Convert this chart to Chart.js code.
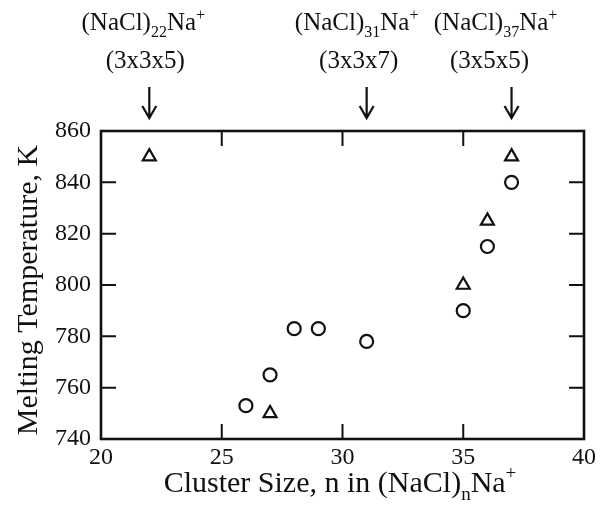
<!DOCTYPE html>
<html>
<head>
<meta charset="utf-8">
<script src="https://cdn.jsdelivr.net/npm/chart.js@4"></script>
<style>
  html, body { margin: 0; padding: 0; background: #fff; }
  #wrap { width: 600px; height: 509px; }
</style>
</head>
<body>
<div id="wrap"><canvas id="meltChart" width="600" height="509"></canvas></div>
<script>
// triangles (upper series)
const triN = [22, 27, 35, 36, 37];
const triT = [850, 750, 800, 825, 850];
// circles
const circN = [26, 27, 28, 29, 31, 35, 36, 37];
const circT = [753, 765, 783, 783, 778, 790, 815, 840];

const xTicks = [20, 25, 30, 35, 40];
const yTicks = [740, 760, 780, 800, 820, 840, 860];

// cluster labels above the plot
const markN = [22, 31, 37];
const markSub = ['22', '31', '37'];
const markShape = ['(3x3x5)', '(3x3x7)', '(3x5x5)'];

const ink = '#111';
const serif = '"Liberation Serif", "DejaVu Serif", serif';

function toPoints(xs, ys) {
    return xs.map((x, i) => ({ x: x, y: ys[i] }));
}

// draws text made of normal / sub / sup pieces, centred on cx
function drawRich(ctx, parts, cx, baseline, size) {
    const subSize = Math.round(size * 0.62);
    let total = 0;
    parts.forEach(p => {
        ctx.font = `${p.k === 'n' ? size : subSize}px ${serif}`;
        p.w = ctx.measureText(p.t).width;
        total += p.w;
    });
    let x = cx - total / 2;
    ctx.textAlign = 'left';
    ctx.textBaseline = 'alphabetic';
    parts.forEach(p => {
        ctx.font = `${p.k === 'n' ? size : subSize}px ${serif}`;
        let dy = 0;
        if (p.k === 'sub') dy = size * 0.28;
        if (p.k === 'sup') dy = -size * 0.42;
        ctx.fillText(p.t, x, baseline + dy);
        x += p.w;
    });
}

const framePlugin = {
    id: 'frame',
    afterDraw(chart) {
        const ctx = chart.ctx;
        const a = chart.chartArea;
        const xs = chart.scales.x;
        const ys = chart.scales.y;
        ctx.save();
        ctx.strokeStyle = ink;
        ctx.fillStyle = ink;

        // box
        ctx.lineWidth = 2.6;
        ctx.strokeRect(a.left, a.top, a.right - a.left, a.bottom - a.top);

        // inward ticks on all four sides
        const tl = 15;
        ctx.lineWidth = 2;
        ctx.beginPath();
        xTicks.slice(1, -1).forEach(v => {
            const px = xs.getPixelForValue(v);
            ctx.moveTo(px, a.bottom); ctx.lineTo(px, a.bottom - tl);
            ctx.moveTo(px, a.top); ctx.lineTo(px, a.top + tl);
        });
        yTicks.slice(1, -1).forEach(v => {
            const py = ys.getPixelForValue(v);
            ctx.moveTo(a.left, py); ctx.lineTo(a.left + tl, py);
            ctx.moveTo(a.right, py); ctx.lineTo(a.right - tl, py);
        });
        ctx.stroke();

        // axis titles
        drawRich(ctx, [
            { t: 'Cluster Size, n in (NaCl)', k: 'n' },
            { t: 'n', k: 'sub' },
            { t: 'Na', k: 'n' },
            { t: '+', k: 'sup' }
        ], 340, 492, 30);

        ctx.save();
        ctx.translate(37, 290);
        ctx.rotate(-Math.PI / 2);
        ctx.font = `30px ${serif}`;
        ctx.textAlign = 'center';
        ctx.textBaseline = 'alphabetic';
        ctx.fillText('Melting Temperature, K', 0, 0);
        ctx.restore();

        // labels + arrows above the frame
        const labelShift = [-6, -10, -16];
        markN.forEach((n, i) => {
            const px = xs.getPixelForValue(n);
            const lx = px + labelShift[i];
            drawRich(ctx, [
                { t: '(NaCl)', k: 'n' },
                { t: markSub[i], k: 'sub' },
                { t: 'Na', k: 'n' },
                { t: '+', k: 'sup' }
            ], lx, 30, 25);
            ctx.font = `25px ${serif}`;
            ctx.textAlign = 'center';
            ctx.fillText(markShape[i], lx + (i === 2 ? -6 : 2), 68);

            ctx.lineWidth = 2.2;
            ctx.beginPath();
            ctx.moveTo(px, 87);
            ctx.lineTo(px, 118);
            ctx.moveTo(px - 7, 106);
            ctx.lineTo(px, 118);
            ctx.lineTo(px + 7, 106);
            ctx.stroke();
        });
        ctx.restore();
    }
};

new Chart(document.getElementById('meltChart'), {
    type: 'scatter',
    data: {
        datasets: [
            {
                label: 'triangles',
                data: toPoints(triN, triT),
                pointStyle: 'triangle',
                pointRadius: 7.5,
                borderColor: ink,
                backgroundColor: 'rgba(0,0,0,0)',
                borderWidth: 2.2
            },
            {
                label: 'circles',
                data: toPoints(circN, circT),
                pointStyle: 'circle',
                pointRadius: 6.5,
                borderColor: ink,
                backgroundColor: 'rgba(0,0,0,0)',
                borderWidth: 2.2
            }
        ]
    },
    options: {
        responsive: false,
        animation: false,
        devicePixelRatio: 1,
        layout: { padding: { left: 0, top: 131, right: 15, bottom: 0 } },
        plugins: {
            legend: { display: false },
            tooltip: { enabled: false }
        },
        scales: {
            x: {
                type: 'linear',
                min: 20,
                max: 40,
                afterBuildTicks: s => { s.ticks = xTicks.map(v => ({ value: v })); },
                afterFit: s => { s.height = 70; },
                grid: { display: false, drawTicks: false },
                border: { display: false },
                ticks: { color: ink, padding: 4, font: { family: serif, size: 24 } }
            },
            y: {
                type: 'linear',
                min: 740,
                max: 860,
                afterBuildTicks: s => { s.ticks = yTicks.map(v => ({ value: v })); },
                afterFit: s => { s.width = 101; },
                grid: { display: false, drawTicks: false },
                border: { display: false },
                ticks: { color: ink, padding: 10, font: { family: serif, size: 24 } }
            }
        }
    },
    plugins: [framePlugin]
});
</script>
</body>
</html>
